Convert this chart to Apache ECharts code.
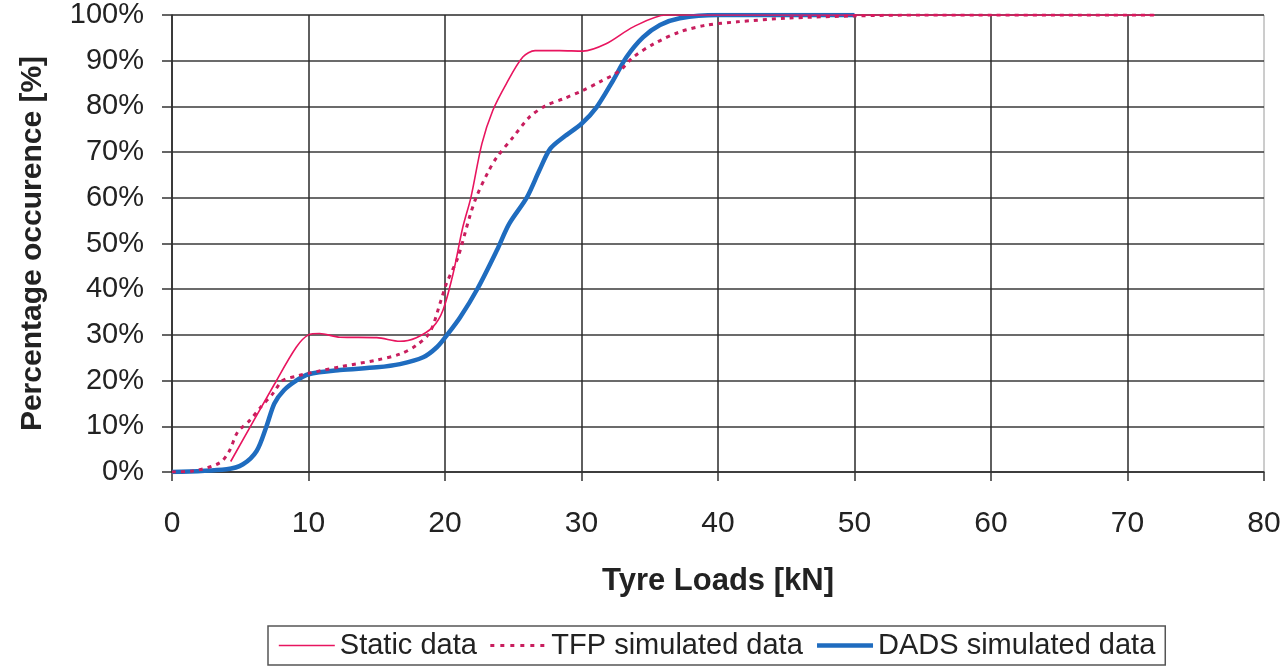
<!DOCTYPE html>
<html>
<head>
<meta charset="utf-8">
<script src="https://cdn.jsdelivr.net/npm/echarts@6/dist/echarts.min.js"></script>
<style>
html,body{margin:0;padding:0;background:#fff;}
#chart{width:1288px;height:671px;}
</style>
</head>
<body>
<div id="chart"></div>
<script>
// Tyre load [kN] / cumulative percentage occurrence [%]
const staticX = [4.3, 7.5, 9.1, 10.0, 10.8, 12.3, 15.0, 16.7, 17.9, 19.1, 19.85, 20.6, 21.3, 21.9, 22.7, 23.5, 24.5, 25.7, 26.6, 28.4, 30.1, 31.8, 33.8, 36.2, 72];
const staticY = [2.3, 19.2, 27.3, 30.0, 30.3, 29.5, 29.4, 28.6, 29.4, 31.7, 35.4, 43.5, 53.5, 60.1, 71.8, 79.1, 85.0, 90.8, 92.2, 92.2, 92.1, 93.7, 97.4, 100, 100];

const tfpX = [0, 1.5, 3.5, 4.2, 4.8, 5.7, 6.5, 7.4, 8.1, 9.3, 10, 12.3, 15, 16.7, 17.9, 18.9, 19.7, 20.1, 20.95, 21.8, 22.3, 23.15, 23.8, 25.0, 26.2, 27.4, 28.7, 30.1, 31.3, 32.8, 33.8, 35.3, 37.2, 39.2, 41.4, 45, 50, 55, 72];
const tfpY = [0, 0.2, 2, 4.6, 8.7, 11.3, 14.2, 17.2, 20, 21.1, 21.6, 23, 24.5, 25.8, 27.7, 30.6, 37.5, 41.2, 47, 55.8, 60.2, 65.6, 68.9, 73.3, 77.7, 80.2, 81.7, 83.5, 85.3, 87.8, 90.8, 93.7, 96.3, 97.8, 98.5, 99.3, 99.8, 100, 100];

const dadsX = [0, 4.0, 5.2, 6.2, 6.9, 7.5, 8.2, 9.1, 10, 12.3, 15, 16.7, 18.4, 19.4, 20.1, 21.1, 22.4, 23.8, 24.7, 26.0, 26.9, 27.7, 28.7, 30, 31.1, 32.3, 33.3, 34.5, 35.75, 37.2, 40, 50];
const dadsY = [0, 0.6, 1.7, 4.6, 9.8, 15, 17.9, 20, 21.4, 22.3, 22.9, 23.6, 25.1, 27.3, 29.8, 33.8, 40.2, 48.5, 54.3, 60.1, 65.9, 70.7, 73.3, 76.2, 79.8, 85.6, 90.8, 95.1, 97.8, 99.3, 100, 100];

const seriesNames = ['Static data', 'TFP simulated data', 'DADS simulated data'];
const xTicks = {min: 0, max: 80, interval: 10};
const yTicks = {min: 0, max: 100, interval: 10};

function pairs(xs, ys){ return xs.map((x,i)=>[x, ys[i]]); }

const FONT = '"Liberation Sans", Arial, sans-serif';
const colors = ['#e8155f', '#c81e5e', '#1f6cbf'];
const chart = echarts.init(document.getElementById('chart'), null, {renderer:'canvas'});
chart.setOption({
  backgroundColor: '#ffffff',
  animation: false,
  grid: {left: 172, right: 24, top: 15, bottom: 199, show: true, borderColor: '#9a9a9a', borderWidth: 1},
  legend: {
    left: 268, top: 626,
    padding: [5, 10, 5, 10],
    itemGap: 12, itemWidth: 56, itemHeight: 12,
    borderColor: '#555', borderWidth: 1.5,
    itemStyle: {opacity: 0},
    textStyle: {fontFamily: FONT, fontSize: 29, color: '#222'},
    data: [
      {name: seriesNames[0], itemStyle: {opacity: 0}, lineStyle: {color: colors[0], width: 1.6}},
      {name: seriesNames[1], itemStyle: {opacity: 0}, lineStyle: {color: colors[1], width: 3, type: [4, 6]}},
      {name: seriesNames[2], itemStyle: {opacity: 0}, lineStyle: {color: colors[2], width: 4.5}}
    ]
  },
  xAxis: {
    type: 'value', min: xTicks.min, max: xTicks.max, interval: xTicks.interval,
    name: 'Tyre Loads [kN]', nameLocation: 'middle', nameGap: 94,
    nameTextStyle: {fontFamily: FONT, fontSize: 31, fontWeight: 'bold', color: '#222'},
    axisLine: {show: true, lineStyle: {color: '#333', width: 1.5}},
    axisTick: {show: true, inside: false, length: 9, lineStyle: {color: '#333', width: 1.5}},
    axisLabel: {fontFamily: FONT, fontSize: 30, color: '#222', margin: 37},
    splitLine: {show: true, showMaxLine: false, lineStyle: {color: '#2a2a2a', width: 1.5}}
  },
  yAxis: {
    type: 'value', min: yTicks.min, max: yTicks.max, interval: yTicks.interval,
    name: 'Percentage occurence [%]', nameLocation: 'middle', nameGap: 124,
    nameTextStyle: {fontFamily: FONT, fontSize: 30, fontWeight: 'bold', color: '#222'},
    axisLine: {show: true, lineStyle: {color: '#333', width: 1.5}},
    axisTick: {show: true, inside: false, length: 10, lineStyle: {color: '#333', width: 1.5}},
    axisLabel: {fontFamily: FONT, fontSize: 29, color: '#222', margin: 28, formatter: '{value}%'},
    splitLine: {show: true, lineStyle: {color: '#3a3a3a', width: 1.5}}
  },
  series: [
    {name: seriesNames[0], type: 'line', showSymbol: false, symbol: 'none', smooth: 0.3,
     data: pairs(staticX, staticY), lineStyle: {color: colors[0], width: 1.6}, itemStyle: {color: colors[0]}, z: 4},
    {name: seriesNames[1], type: 'line', showSymbol: false, symbol: 'none', smooth: 0.3,
     data: pairs(tfpX, tfpY), lineStyle: {color: colors[1], width: 3, type: [4, 5]}, itemStyle: {color: colors[1]}, z: 3},
    {name: seriesNames[2], type: 'line', showSymbol: false, symbol: 'none', smooth: 0.3,
     data: pairs(dadsX, dadsY), lineStyle: {color: colors[2], width: 4.5}, itemStyle: {color: colors[2]}, z: 2}
  ]
});
</script>
</body>
</html>
